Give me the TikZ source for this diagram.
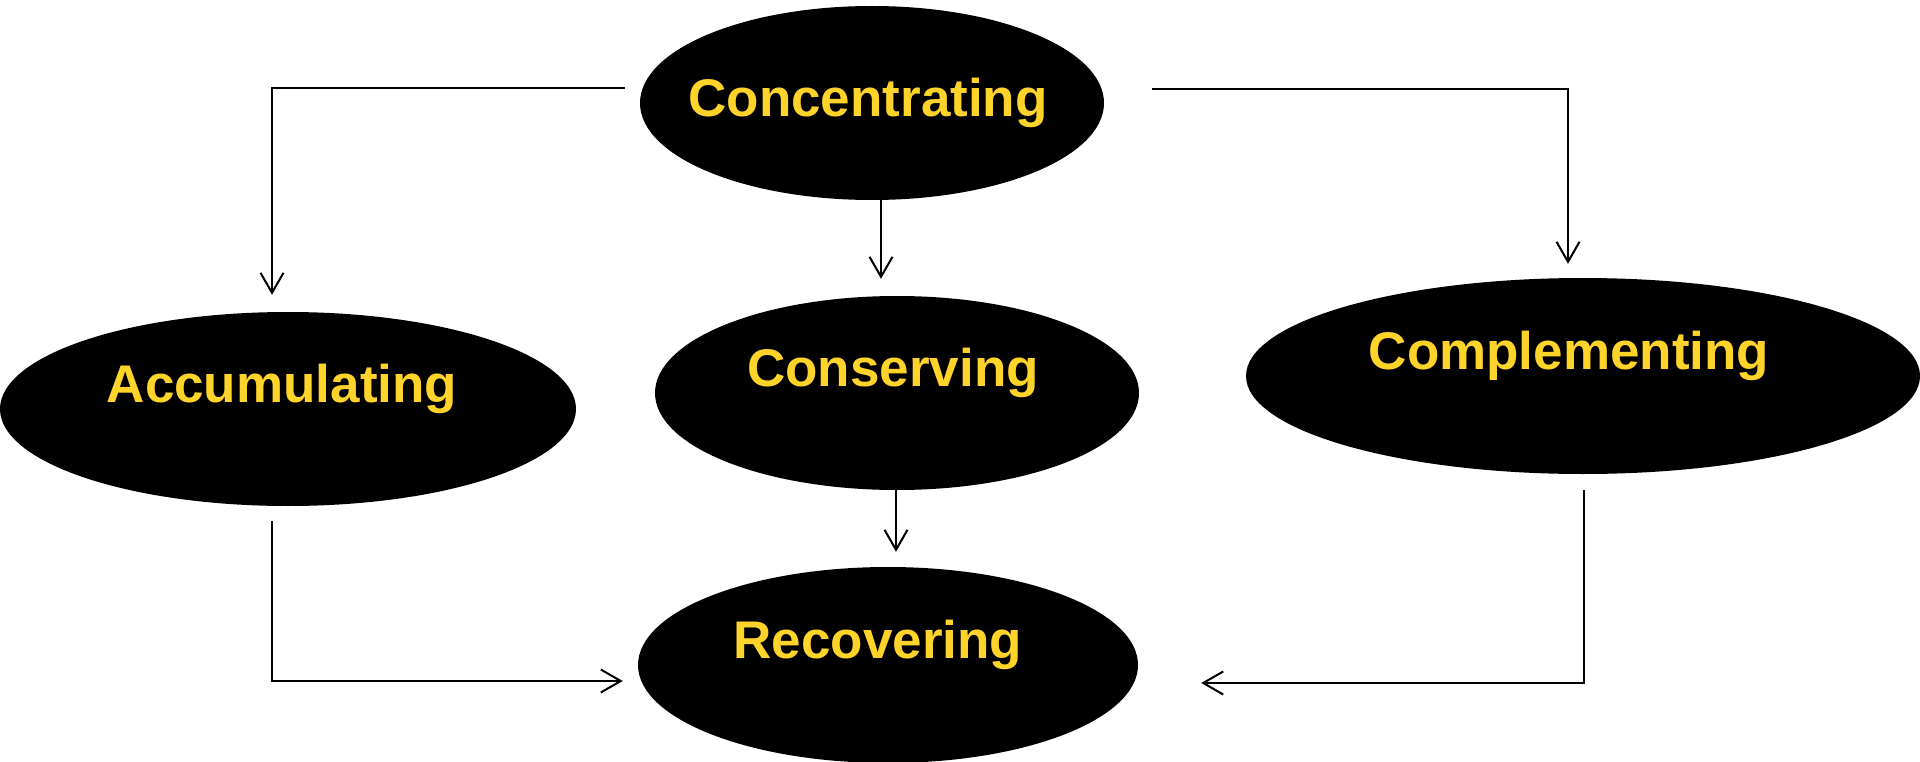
\documentclass[tikz,border=0pt]{standalone}
\usepackage{fontspec}
\setmainfont{Liberation Sans}
\definecolor{gold}{RGB}{255,212,42}
\usetikzlibrary{shapes.geometric,arrows.meta,positioning}

\begin{document}
\begin{tikzpicture}[on grid,
		blob/.style={ellipse,fill=black,inner sep=0pt,minimum height=194pt},
		tag/.style={text=gold,font=\fontsize{53}{60}\selectfont\bfseries},
		uptag/.style={tag,yshift=20pt},
		link/.style={line width=2pt,-{Straight Barb[length=20pt,width=23pt]}}]
		\useasboundingbox (0,0) rectangle (1920pt,-762pt);

		\node[blob,minimum width=464pt,label={[tag,xshift=-4pt]center:Concentrating}] (conc) at (872pt,-103pt) {};
		\node[blob,minimum width=484pt,below right=290pt and 25pt of conc,label={[uptag,xshift=-4pt]center:Conserving}] (cons) {};
		\node[blob,minimum width=576pt,below left=306pt and 584pt of conc,label={[uptag,xshift=-6pt]center:Accumulating}] (acc) {};
		\node[blob,minimum width=674pt,minimum height=196pt,below right=273pt and 711pt of conc,label={[uptag,xshift=-14pt]center:Complementing}] (comp) {};
		\node[blob,minimum width=500pt,minimum height=196pt,below left=272pt and 9pt of cons,label={[uptag,xshift=-10pt]center:Recovering}] (rec) {};

		\coordinate (concL) at ([xshift=-15pt,yshift=15pt]conc.west);
		\coordinate (concR) at ([xshift=48pt,yshift=14pt]conc.east);
		\coordinate (accIn) at ([xshift=-16pt,yshift=17pt]acc.north);
		\coordinate (consIn) at ([xshift=-16pt,yshift=17pt]cons.north);
		\coordinate (compIn) at ([xshift=-15pt,yshift=14pt]comp.north);
		\coordinate (accOut) at ([xshift=-16pt,yshift=-15pt]acc.south);
		\coordinate (compOut) at ([xshift=1pt,yshift=-16pt]comp.south);
		\coordinate (recTop) at ([xshift=8pt,yshift=15pt]rec.north);
		\coordinate (recL) at ([xshift=-15pt,yshift=-16pt]rec.west);
		\coordinate (recR) at ([xshift=63pt,yshift=-18pt]rec.east);

		\draw[link] (concL) -| (accIn);
		\draw[link] (concR) -| (compIn);
		\draw[link] (conc.south -| consIn) -- (consIn);
		\draw[link] (cons.south -| recTop) -- (recTop);
		\draw[link] (accOut) |- (recL);
		\draw[link] (compOut) |- (recR);
\end{tikzpicture}
\end{document}
